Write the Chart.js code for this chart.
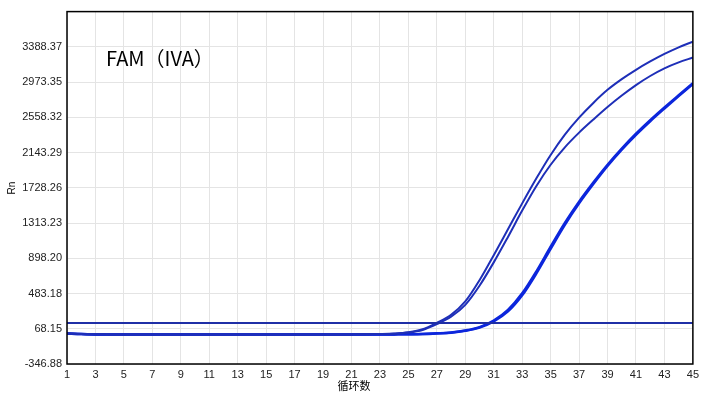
<!DOCTYPE html>
<html>
<head>
<meta charset="utf-8">
<script src="https://cdn.jsdelivr.net/npm/chart.js@4"></script>
<style>
  html, body { margin: 0; padding: 0; background: #fff; }
  #wrap { width: 703px; height: 395px; position: relative; }
</style>
</head>
<body>
<div id="wrap"><canvas id="chart"></canvas></div>
<script>
// ===========================
// Data
// ===========================
const CYCLES = Array.from({ length: 45 }, (_, i) => i + 1);
const X_TICKS = CYCLES.filter(c => c % 2 === 1);

const Y_TICKS = [-346.88, 68.15, 483.18, 898.20, 1313.23, 1728.26, 2143.29, 2558.32, 2973.35, 3388.37, 3803.40];

// early amplification (upper plateau)
const curveA = [14, 6, 3, 2, 1, 1, 0, 0, 0, 0, 0, 0, 0, 0, 0, 0, 0, 0, 1, 1,
  2, 3, 6, 12, 27, 62, 138, 232, 390, 640, 935, 1240, 1545, 1840, 2115,
  2355, 2555, 2728, 2882, 3008, 3118, 3216, 3305, 3383, 3450];
// early amplification (lower plateau)
const curveB = [13, 6, 3, 2, 1, 1, 0, 0, 0, 0, 0, 0, 0, 0, 0, 0, 0, 0, 1, 1,
  2, 3, 5, 10, 23, 54, 122, 210, 350, 575, 850, 1150, 1460, 1750, 2000,
  2205, 2378, 2532, 2680, 2815, 2938, 3045, 3135, 3205, 3262];
// late amplification, two near-identical wells
const curveC = [12, 5, 2, 1, 0, 0, 0, 0, 0, 0, 0, 0, 0, 0, 0, 0, 0, 0, 0, 0,
  0, 1, 1, 2, 3, 6, 14, 25, 48, 88, 165, 290, 485, 745, 1035,
  1315, 1565, 1790, 2000, 2190, 2365, 2525, 2675, 2818, 2960];
const curveD = [12, 5, 2, 1, 0, 0, 0, 0, 0, 0, 0, 0, 0, 0, 0, 0, 0, 0, 0, 0,
  0, 1, 1, 2, 3, 5, 12, 22, 44, 82, 155, 272, 462, 720, 1010,
  1292, 1545, 1772, 1985, 2177, 2352, 2512, 2662, 2808, 2950];

const THRESHOLD = 135;

// ===========================
// Helpers
// ===========================
function toPoints(values) {
  return CYCLES.map((c, i) => ({ x: c, y: values[i] }));
}

function curve(values, color, width) {
  return {
    data: toPoints(values),
    borderColor: color,
    borderWidth: width,
    pointRadius: 0,
    cubicInterpolationMode: 'monotone',
    fill: false
  };
}

// border + overlay texts
const frameAndText = {
  id: 'frameAndText',
  afterDraw(chart) {
    const { ctx, chartArea: a } = chart;
    ctx.save();
    ctx.strokeStyle = '#000';
    ctx.lineWidth = 1.5;
    ctx.strokeRect(a.left, a.top, a.right - a.left, a.bottom - a.top);

    ctx.fillStyle = '#000';
    ctx.font = '20px "Noto Sans CJK SC", "Noto Sans", sans-serif';
    ctx.textBaseline = 'middle';
    ctx.textAlign = 'left';
    ctx.fillText('FAM（IVA）', 106, 58);

    ctx.font = '11px "Noto Sans CJK SC", sans-serif';
    ctx.textAlign = 'center';
    ctx.fillText('循环数', 354, 386);

    ctx.translate(12, 188);
    ctx.rotate(-Math.PI / 2);
    ctx.font = '10px "Liberation Sans", Arial, sans-serif';
    ctx.fillText('Rn', 0, 0);
    ctx.restore();
  }
};

// ===========================
// Chart
// ===========================
const LINE_EARLY = '#1e2fb8';
const LINE_LATE = '#0c26dc';

new Chart(document.getElementById('chart'), {
  type: 'line',
  data: {
    datasets: [
      {
        data: [{ x: 1, y: THRESHOLD }, { x: 45, y: THRESHOLD }],
        borderColor: '#1f2fa6',
        borderWidth: 2,
        pointRadius: 0
      },
      curve(curveA, LINE_EARLY, 2),
      curve(curveB, LINE_EARLY, 2),
      curve(curveC, LINE_LATE, 2.5),
      curve(curveD, LINE_LATE, 2.5)
    ]
  },
  options: {
    responsive: true,
    maintainAspectRatio: false,
    animation: false,
    layout: { padding: { top: 8, right: 10, left: 0, bottom: 0 } },
    plugins: { legend: { display: false }, tooltip: { enabled: false } },
    scales: {
      x: {
        type: 'linear',
        min: 1,
        max: 45,
        grid: { color: '#e4e4e4', drawTicks: false },
        border: { display: false },
        afterFit(scale) { scale.height = 31; },
        afterBuildTicks(scale) { scale.ticks = X_TICKS.map(v => ({ value: v })); },
        ticks: {
          padding: 4,
          color: '#222',
          font: { size: 11, family: '"Liberation Sans", Arial, sans-serif' },
          maxRotation: 0,
          autoSkip: false
        }
      },
      y: {
        min: Y_TICKS[0],
        max: Y_TICKS[Y_TICKS.length - 1],
        grid: { color: '#e4e4e4', drawTicks: false },
        border: { display: false },
        afterFit(scale) { scale.width = 67; },
        afterBuildTicks(scale) { scale.ticks = Y_TICKS.map(v => ({ value: v })); },
        ticks: {
          padding: 5,
          color: '#222',
          font: { size: 11, family: '"Liberation Sans", Arial, sans-serif' },
          callback: (v, i) => i === Y_TICKS.length - 1 ? '' : Number(v).toFixed(2)
        }
      }
    }
  },
  plugins: [frameAndText]
});
</script>
</body>
</html>
